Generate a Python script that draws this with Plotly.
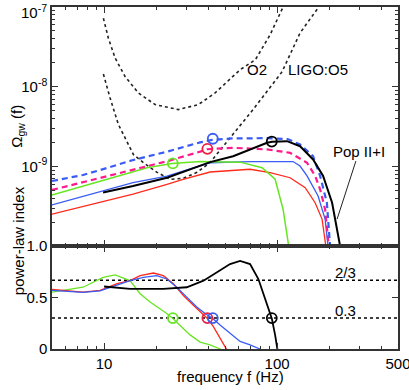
import numpy as np
import plotly.graph_objects as go

# --- top panel: Omega_gw(f), values in units of 1e-10 ---
f_blue_dash = [5.0, 7.56, 9.5, 14.7, 23.1, 35.9, 42.1, 55, 87.5, 115, 135.8, 161.5, 177.3, 194, 202.5, 210]
om_blue_dash = [6.55, 7.8, 9.0, 12.0, 15.3, 20.0, 21.5, 22.4, 22.6, 22.0, 18.8, 13.4, 7.6, 3.5, 1.0, 0.5]

f_pink_dash = [5.0, 9.5, 14.7, 23.1, 35.9, 39.4, 55.7, 87.5, 118.9, 149, 166, 177.3, 189.5, 197, 205]
om_pink_dash = [5.06, 7.2, 9.2, 11.6, 15.3, 16.4, 17.1, 16.3, 14.8, 11.1, 7.6, 5.16, 2.9, 1.0, 0.5]

f_green = [5.0, 6.62, 9.48, 14.1, 17.7, 24.7, 35.9, 41.0, 61.1, 81.9, 97.4, 108.3, 115.8, 120]
om_green = [4.38, 5.16, 6.5, 8.3, 9.6, 10.9, 11.5, 11.4, 11.3, 9.6, 6.9, 2.9, 1.12, 0.5]

f_blue = [5.0, 9.48, 14.7, 23.1, 35.9, 41.0, 69.8, 123.7, 135.8, 149, 172.6, 189.5, 197, 205]
om_blue = [3.28, 4.77, 6.25, 7.56, 10.1, 11.1, 11.5, 11.5, 10.1, 7.6, 4.25, 2.18, 1.0, 0.5]

f_red = [5.0, 9.48, 14.7, 23.1, 28.6, 41.0, 69.8, 91.1, 118.9, 145.4, 165.9, 182, 192, 200]
om_red = [2.51, 3.5, 4.47, 5.96, 6.88, 8.5, 9.2, 8.33, 7.2, 5.4, 3.5, 2.18, 1.0, 0.5]

f_black = [9.87, 14.7, 23.1, 35.9, 41.0, 55.7, 69.8, 87.5, 93.6, 114.2, 135.8, 161.5, 184.5, 208, 231.4, 245]
om_black = [4.69, 5.67, 7.2, 10.1, 11.3, 13.4, 16.3, 19.8, 20.4, 20.7, 17.9, 12.2, 7.6, 3.5, 1.0, 0.5]

# detector sensitivity curves
f_o2 = [9.91, 10.59, 11.58, 13.22, 15.79, 19.72, 26.89, 35.08, 43.81, 61.1, 74.9, 91.1, 108.3, 112]
om_o2 = [722, 406, 229, 134.5, 83.4, 59.6, 51.6, 59.6, 83.4, 163, 218, 447, 1000, 1200]

f_o5 = [9.91, 10.83, 12.1, 13.82, 14.77, 16.81, 20.25, 24.07, 28.62, 34.48, 41.0, 72.64, 106.9, 135.8, 172.6, 180]
om_o5 = [144, 72.3, 33.5, 18.8, 14.1, 11.2, 8.41, 6.88, 7.08, 8.41, 11.2, 51.6, 154, 473, 972, 1200]

# points where the power-law index drops to 0.3
f_mark = [24.96, 39.55, 42.5, 93.2]
om_mark = [10.9, 16.6, 22.2, 20.5]
mark_colors = ["#66e622", "#ee2040", "#3a5cf5", "black"]

# --- bottom panel: power-law index ---
fi_green = [5.0, 7.56, 9.87, 11.58, 14.13, 16.15, 18.45, 21.07, 23.04, 24.96, 27.5, 31.42, 35.88, 41.0, 46.83, 50]
idx_green = [0.553, 0.60, 0.696, 0.72, 0.664, 0.537, 0.456, 0.393, 0.345, 0.297, 0.233, 0.137, 0.067, 0.041, 0.0, -0.03]

fi_red = [5.0, 7.56, 9.48, 11.89, 14.13, 16.15, 19.28, 22.02, 25.16, 28.73, 32.83, 36.70, 39.55, 42.84, 46.83, 51.19, 53]
idx_red = [0.578, 0.553, 0.57, 0.635, 0.664, 0.712, 0.738, 0.712, 0.633, 0.52, 0.425, 0.345, 0.297, 0.217, 0.105, 0.0, -0.05]

fi_blue = [5.0, 7.56, 9.48, 11.89, 14.13, 16.87, 20.16, 23.04, 26.32, 30.06, 34.34, 38.35, 42.5, 46.83, 53.49, 61.11, 69.8, 79.7]
idx_blue = [0.57, 0.55, 0.565, 0.625, 0.664, 0.696, 0.712, 0.68, 0.60, 0.504, 0.408, 0.345, 0.297, 0.233, 0.153, 0.073, 0.041, 0.0]

fi_black = [10.0, 14.13, 22.02, 30.06, 37.55, 44.81, 53.49, 61.11, 69.8, 77.97, 85.22, 93.2, 97.4, 100.4, 101.5]
idx_black = [0.607, 0.585, 0.585, 0.60, 0.664, 0.744, 0.825, 0.856, 0.825, 0.68, 0.489, 0.297, 0.137, 0.0, -0.05]

ref_levels = [2 / 3, 0.3]
ref_labels = ["2/3", "0.3"]

BLUE = "#3a5cf5"
RED = "#ff2a1a"
PINK = "#ff1a8c"
GREEN = "#66e622"
FONT = "Liberation Sans"

fig = go.Figure()


def top(x, y_e10, color, width, dash="solid"):
    fig.add_trace(go.Scatter(x=x, y=np.array(y_e10) * 1e-10, mode="lines",
                             line=dict(color=color, width=width, dash=dash),
                             xaxis="x", yaxis="y", showlegend=False))


top(f_o2, om_o2, "#222", 1.6, "dot")
top(f_o5, om_o5, "#222", 1.6, "dot")
top(f_red, om_red, RED, 1.3)
top(f_blue, om_blue, BLUE, 1.3)
top(f_green, om_green, GREEN, 1.5)
top(f_pink_dash, om_pink_dash, PINK, 2.2, "6px,4px")
top(f_blue_dash, om_blue_dash, BLUE, 2.2, "6px,4px")
top(f_black, om_black, "black", 2.0)

fig.add_trace(go.Scatter(x=f_mark, y=np.array(om_mark) * 1e-10, mode="markers",
                         marker=dict(symbol="circle-open", size=10, color=mark_colors,
                                     line=dict(width=1.8, color=mark_colors)),
                         xaxis="x", yaxis="y", showlegend=False))

# bottom panel
for lev in ref_levels:
    fig.add_trace(go.Scatter(x=[5, 500], y=[lev, lev], mode="lines",
                             line=dict(color="black", width=1.5, dash="dot"),
                             xaxis="x2", yaxis="y2", showlegend=False))

for x, y, c, w in [(fi_green, idx_green, GREEN, 1.3), (fi_red, idx_red, RED, 1.3),
                   (fi_blue, idx_blue, BLUE, 1.3), (fi_black, idx_black, "black", 1.8)]:
    fig.add_trace(go.Scatter(x=x, y=y, mode="lines", line=dict(color=c, width=w),
                             xaxis="x2", yaxis="y2", showlegend=False))

fig.add_trace(go.Scatter(x=f_mark, y=[0.3] * len(f_mark), mode="markers",
                         marker=dict(symbol="circle-open", size=10, color=mark_colors,
                                     line=dict(width=1.8, color=mark_colors)),
                         xaxis="x2", yaxis="y2", showlegend=False))

x_minor = [6, 7, 8, 9, 20, 30, 40, 50, 60, 70, 80, 90, 200, 300, 400]
y_minor = [m * 10.0 ** e for e in (-10, -9, -8) for m in range(2, 10)]

axis_common = dict(showline=True, linecolor="#333", linewidth=1.5, mirror="ticks",
                   ticks="inside", ticklen=6, tickwidth=1.2, tickcolor="#333",
                   showgrid=False, zeroline=False, automargin=False,
                   ticklabeloverflow="allow",
                   tickfont=dict(family=FONT, size=15, color="black"))

fig.update_layout(
    width=409, height=390,
    margin=dict(l=52, r=11, t=7, b=41),
    paper_bgcolor="white", plot_bgcolor="white",
    xaxis=dict(type="log", range=[np.log10(5), np.log10(500)], anchor="y",
               showticklabels=False, tickvals=[10, 100],
               minor=dict(tickvals=x_minor, ticks="inside", ticklen=3, tickcolor="#333"),
               **axis_common),
    xaxis2=dict(type="log", range=[np.log10(5), np.log10(500)], anchor="y2",
                tickvals=[10, 100, 500], ticktext=["10", "100", "500"],
                minor=dict(tickvals=x_minor, ticks="inside", ticklen=3, tickcolor="#333"),
                **axis_common),
    yaxis=dict(type="log", range=[-10, -7], domain=[0.301, 1], anchor="x",
               tickvals=[1e-9, 1e-8, 1e-7],
               ticktext=["10<sup>-9</sup>", "10<sup>-8</sup>", ""],
               minor=dict(tickvals=y_minor, ticks="inside", ticklen=3, tickcolor="#333"),
               **axis_common),
    yaxis2=dict(range=[0, 1], domain=[0, 0.301], anchor="x2",
                tickvals=[0, 0.5, 1.0], ticktext=["0", "0.5", "1.0"],
                **axis_common),
    font=dict(family=FONT, size=15, color="black"),
)

ann = [
    dict(x=np.log10(76.6), y=np.log10(1.63e-8), xref="x", yref="y", text="O2", showarrow=False),
    dict(x=np.log10(172.6), y=np.log10(1.63e-8), xref="x", yref="y", text="LIGO:O5", showarrow=False),
    dict(x=np.log10(222.3), y=np.log10(2.18e-10), xref="x", yref="y", text="Pop II+I",
         showarrow=True, arrowhead=0, arrowwidth=1, arrowcolor="#222", ax=22, ay=-68),
    dict(x=np.log10(247), y=0.741, xref="x2", yref="y2", text=ref_labels[0], showarrow=False),
    dict(x=np.log10(247), y=0.377, xref="x2", yref="y2", text=ref_labels[1], showarrow=False),
    # top tick label kept inside the page
    dict(x=0, y=1, xref="paper", yref="paper", xanchor="right", yanchor="top",
         xshift=-3, yshift=7, text="10<sup>-7</sup>", showarrow=False),
    dict(x=0, y=0.65, xref="paper", yref="paper", xanchor="center", xshift=-34,
         text="Ω<sub>gw</sub> (f)", textangle=-90, showarrow=False),
    dict(x=0, y=0.15, xref="paper", yref="paper", xanchor="center", xshift=-34,
         text="power-law index", textangle=-90, showarrow=False),
    dict(x=np.log10(53.5), y=0, xref="x2", yref="paper", yshift=-17, yanchor="top",
         text="frequency f (Hz)", showarrow=False),
]
for a in ann:
    a.setdefault("font", dict(family=FONT, size=15, color="black"))
    fig.add_annotation(**a)

# the page body has a default 8px margin; drop it so the figure fills the window
fig.write_html("out.html", config={"displayModeBar": False},
               post_script="document.body.style.margin='0';")
